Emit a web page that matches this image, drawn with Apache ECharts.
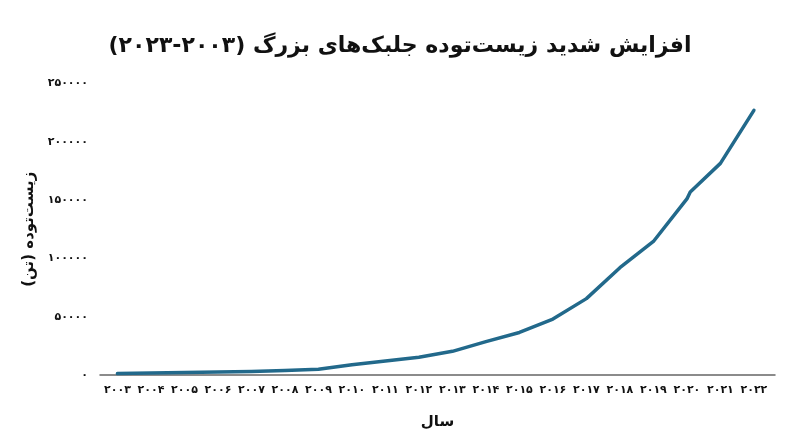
<!DOCTYPE html>
<html lang="fa" dir="rtl">
<head>
<meta charset="utf-8">
<script src="https://cdn.jsdelivr.net/npm/echarts@6/dist/echarts.min.js"></script>
<style>
html,body{margin:0;padding:0;background:#fff;}
#chart{width:800px;height:447px;}
</style>
</head>
<body>
<div id="chart"></div>
<script>
// Data
const years = [2003, 2004, 2005, 2006, 2007, 2008, 2009, 2010, 2011, 2012, 2013, 2014, 2015, 2016, 2017, 2018, 2019, 2020, 2020.1, 2021, 2022];
const biomass = [1200, 1700, 2100, 2500, 3100, 3900, 4900, 8800, 12000, 15200, 20300, 28600, 36500, 48000, 65500, 92000, 114500, 151000, 157000, 181500, 227000];
const yearTicks = [2003, 2004, 2005, 2006, 2007, 2008, 2009, 2010, 2011, 2012, 2013, 2014, 2015, 2016, 2017, 2018, 2019, 2020, 2021, 2022];
const yTicks = [0, 50000, 100000, 150000, 200000, 250000];

const titleText = 'افزایش شدید زیست‌توده جلبک‌های بزرگ (۲۰۰۳-۲۰۲۳)';
const xName = 'سال';
const yName = 'زیست‌توده (تن)';

function fa(n) {
  return String(n).replace(/[0-9]/g, d => '۰۱۲۳۴۵۶۷۸۹'[+d]);
}

const FONT = '"DejaVu Sans", "Noto Sans", sans-serif';
const chart = echarts.init(document.getElementById('chart'), null, {renderer: 'canvas'});
chart.setOption({
  backgroundColor: '#ffffff',
  animation: false,
  title: {
    text: titleText,
    left: 'center',
    top: 30,
    textStyle: {fontFamily: FONT, fontSize: 22, fontWeight: 'bold', color: '#111'}
  },
  grid: {left: 100, right: 25, top: 83.5, bottom: 72, containLabel: false},
  xAxis: {
    type: 'value',
    min: 2002.48,
    max: 2022.63,
    name: xName,
    nameLocation: 'middle',
    nameGap: 40,
    nameTextStyle: {fontFamily: FONT, fontSize: 15, fontWeight: 'bold', color: '#111'},
    axisLine: {show: true, lineStyle: {color: '#666', width: 1.5}},
    axisTick: {show: false},
    splitLine: {show: false},
    axisLabel: {
      customValues: yearTicks,
      formatter: v => fa(v),
      fontFamily: FONT, fontSize: 11, fontWeight: 'bold', color: '#111', margin: 10,
      showMinLabel: true, showMaxLabel: true
    }
  },
  yAxis: {
    type: 'value',
    min: 0,
    max: 250000,
    interval: 50000,
    name: yName,
    nameLocation: 'middle',
    nameGap: 60,
    nameRotate: 90,
    nameTextStyle: {fontFamily: FONT, fontSize: 15, fontWeight: 'bold', color: '#111'},
    axisLine: {show: false},
    axisTick: {show: false},
    splitLine: {show: false},
    axisLabel: {
      formatter: v => fa(v),
      fontFamily: FONT, fontSize: 11, fontWeight: 'bold', color: '#111', margin: 12
    }
  },
  series: [{
    type: 'line',
    data: years.map((y, i) => [y, biomass[i]]),
    showSymbol: false,
    symbol: 'none',
    lineStyle: {color: '#22698b', width: 3.5, cap: 'round', join: 'round'},
    itemStyle: {color: '#22698b'}
  }]
});
</script>
</body>
</html>
